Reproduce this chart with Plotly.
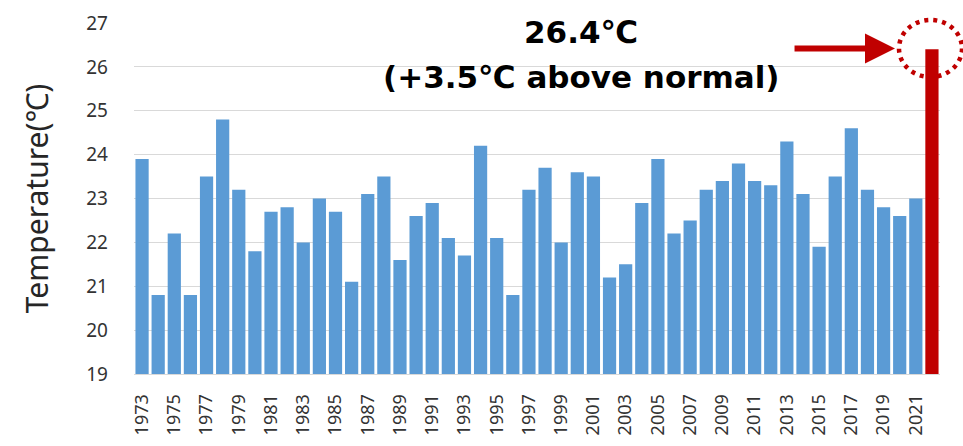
import plotly.graph_objects as go

years = list(range(1973, 2023))
temps = [23.9, 20.8, 22.2, 20.8, 23.5, 24.8, 23.2, 21.8, 22.7, 22.8,
         22.0, 23.0, 22.7, 21.1, 23.1, 23.5, 21.6, 22.6, 22.9, 22.1,
         21.7, 24.2, 22.1, 20.8, 23.2, 23.7, 22.0, 23.6, 23.5, 21.2,
         21.5, 22.9, 23.9, 22.2, 22.5, 23.2, 23.4, 23.8, 23.4, 23.3,
         24.3, 23.1, 21.9, 23.5, 24.6, 23.2, 22.8, 22.6, 23.0, 26.4]
tick_years = list(range(1973, 2022, 2))
y_ticks = list(range(19, 28))

BLUE = "#5B9BD5"
RED = "#C00000"
colors = [RED if y == 2022 else BLUE for y in years]

fig = go.Figure(go.Bar(x=years, y=temps, marker_color=colors,
                       marker_line_width=0, width=0.82))

font_family = "Noto Sans"
fig.update_layout(
    width=963, height=446,
    margin=dict(l=134, r=23, t=23, b=72, autoexpand=False),
    plot_bgcolor="white", paper_bgcolor="white",
    showlegend=False,
    font=dict(family=font_family, color="#404040"),
    xaxis=dict(range=[1972.5, 2022.5], tickmode="array", tickvals=tick_years,
               ticktext=[str(y) for y in tick_years], tickangle=-90,
               tickfont=dict(size=18, color="#333333"), showgrid=False,
               showline=True, linecolor="#D9D9D9", ticks="", ticklabelstandoff=12,
               automargin=False),
    yaxis=dict(range=[19, 27], tickmode="array", tickvals=y_ticks,
               tickfont=dict(size=19, color="#333333"), gridcolor="#D9D9D9",
               gridwidth=1, zeroline=False, ticks="", ticklabelstandoff=25,
               automargin=False,
               title=dict(text="Temperature(℃)", font=dict(size=30, color="#262626"),
                          standoff=28)),
)

title_font = dict(size=31, color="black", family="DejaVu Sans")
fig.add_annotation(x=0.5546, y=0.974, xref="paper", yref="paper",
                   xanchor="center", yanchor="middle",
                   text="<b>26.4℃</b>", showarrow=False, font=title_font)
fig.add_annotation(x=0.5546, y=0.846, xref="paper", yref="paper",
                   xanchor="center", yanchor="middle",
                   text="<b>(+3.5℃ above normal)</b>", showarrow=False, font=title_font)

# arrow
fig.add_annotation(x=2019.71, y=26.42, xref="x", yref="y", ax=-102, ay=0,
                   text="", showarrow=True, arrowhead=2, arrowsize=1.0,
                   arrowwidth=6, arrowcolor=RED, standoff=0)

# dotted circle
fig.add_shape(type="circle", xref="paper", yref="paper",
              x0=(899 - 134) / 806, x1=(962 - 134) / 806,
              y0=(374 - 77) / 351, y1=(374 - 20) / 351,
              line=dict(color=RED, width=4.5, dash="4px,5px"))

fig.write_html("out.html", config={"displayModeBar": False},
               post_script="document.body.style.margin='0';")
